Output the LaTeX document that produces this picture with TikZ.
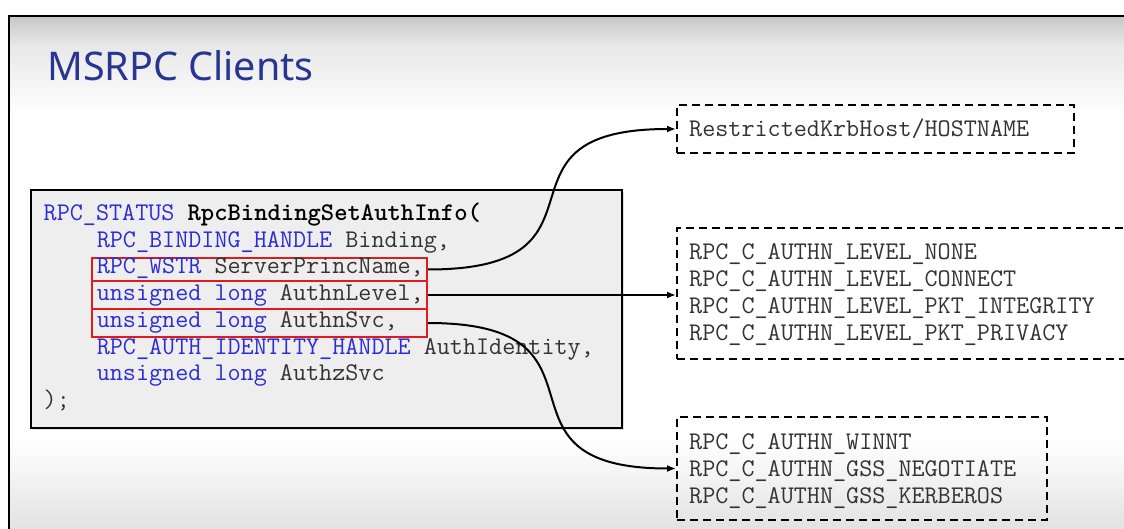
\documentclass[tikz,border=0pt]{standalone}
\usepackage{fontspec}
\setmainfont{Noto Sans}
\newfontfamily\titlefont{Noto Sans}
\usetikzlibrary{arrows.meta,shadows}
\definecolor{titleblue}{HTML}{283593}
\definecolor{kwblue}{HTML}{2B2BD9}
\definecolor{codegray}{HTML}{333333}
\definecolor{boxfill}{HTML}{EEEEEE}
\definecolor{hlred}{HTML}{E01B1B}
\definecolor{bgtop}{HTML}{C6C6C6}
\definecolor{bgmid}{HTML}{E8E8E8}
\definecolor{bgbot}{HTML}{E2E2E2}
\begin{document}
\begin{tikzpicture}[x=1pt,y=-1pt,
  codeline/.style={anchor=base west, inner sep=0pt, font=\ttfamily\fontsize{25.4pt}{30pt}\selectfont, text=codegray},
  hlbox/.style={draw=hlred, line width=2pt, inner sep=0pt, minimum width=335pt},
  optbox/.style={draw=black, line width=2pt, dash pattern=on 8pt off 5pt, inner sep=0pt},
  conn/.style={line width=2pt, -{Latex[length=9pt,width=7pt]}},
  codebox/.style={draw=black, line width=2pt, fill=boxfill, inner sep=0pt,
     drop shadow={opacity=0.25, shadow xshift=2pt, shadow yshift=-2pt}},
]
\useasboundingbox (0,0) rectangle (1124,529);
\begin{scope}
\clip (0,0) rectangle (1124,529);
% background of the slide
\fill[white] (0,0) rectangle (1124,529);
\shade[top color=bgtop, bottom color=bgmid] (9,16) rectangle (1124,45);
\shade[top color=bgmid, bottom color=white] (9,45) rectangle (1124,115);
\shade[top color=white, bottom color=bgbot] (9,440) rectangle (1124,529);
\draw[black, line width=2.5pt] (9,535) -- (9,16) -- (1130,16);

% title
\node[anchor=base west, inner sep=0pt, text=titleblue, font=\titlefont\fontsize{39.5pt}{44pt}\selectfont] (title) at (47,81) {MSRPC Clients};

% code box
\node[codebox, minimum width=591pt, minimum height=238pt, anchor=north west] (code) at (30,189) {};

% highlight boxes
\node[hlbox, minimum height=23pt] (r1) at (259.5,269.5) {};
\node[hlbox, minimum height=28pt] (r2) at (259.5,295) {};
\node[hlbox, minimum height=28pt] (r3) at (259.5,323) {};

% code lines
\node[codeline] (c1) at (43.5,221) {\textcolor{kwblue}{RPC\_STATUS} \textcolor{black}{\bfseries RpcBindingSetAuthInfo(}};
\node[codeline] (c2) at (96.6,247.5) {\textcolor{kwblue}{RPC\_BINDING\_HANDLE} Binding,};
\node[codeline] (c3) at (96.6,274) {\textcolor{kwblue}{RPC\_WSTR} ServerPrincName,};
\node[codeline] (c4) at (96.6,300.5) {\textcolor{kwblue}{unsigned long} AuthnLevel,};
\node[codeline] (c5) at (96.6,327.5) {\textcolor{kwblue}{unsigned long} AuthnSvc,};
\node[codeline] (c6) at (96.6,354) {\textcolor{kwblue}{RPC\_AUTH\_IDENTITY\_HANDLE} AuthIdentity,};
\node[codeline] (c7) at (96.6,380.5) {\textcolor{kwblue}{unsigned long} AuthzSvc};
\node[codeline] (c8) at (43.5,407) {);};

% option boxes
\node[optbox, minimum width=397pt, minimum height=48pt] (host) at (875.5,129) {};
\node[optbox, minimum width=463pt, minimum height=131pt] (lvl) at (908.5,293.5) {};
\node[optbox, minimum width=370pt, minimum height=103pt] (svc) at (862,468.5) {};

\node[codeline] (h1) at (689,136.5) {RestrictedKrbHost/HOSTNAME};

\node[codeline] (l1) at (689,259.5) {RPC\_C\_AUTHN\_LEVEL\_NONE};
\node[codeline] (l2) at (689,286.5) {RPC\_C\_AUTHN\_LEVEL\_CONNECT};
\node[codeline] (l3) at (689,313.5) {RPC\_C\_AUTHN\_LEVEL\_PKT\_INTEGRITY};
\node[codeline] (l4) at (689,340) {RPC\_C\_AUTHN\_LEVEL\_PKT\_PRIVACY};

\node[codeline] (s1) at (689,449.5) {RPC\_C\_AUTHN\_WINNT};
\node[codeline] (s2) at (689,476.5) {RPC\_C\_AUTHN\_GSS\_NEGOTIATE};
\node[codeline] (s3) at (689,503.5) {RPC\_C\_AUTHN\_GSS\_KERBEROS};

% connectors
\draw[conn] (r1.east) .. controls +(200,0) and +(-200,0) .. (host.west);
\draw[conn] (r2.east) -- (r2.east -| lvl.west);
\draw[conn] (r3.east) .. controls +(200,0) and +(-200,0) .. (svc.west);
\end{scope}
\end{tikzpicture}
\end{document}
